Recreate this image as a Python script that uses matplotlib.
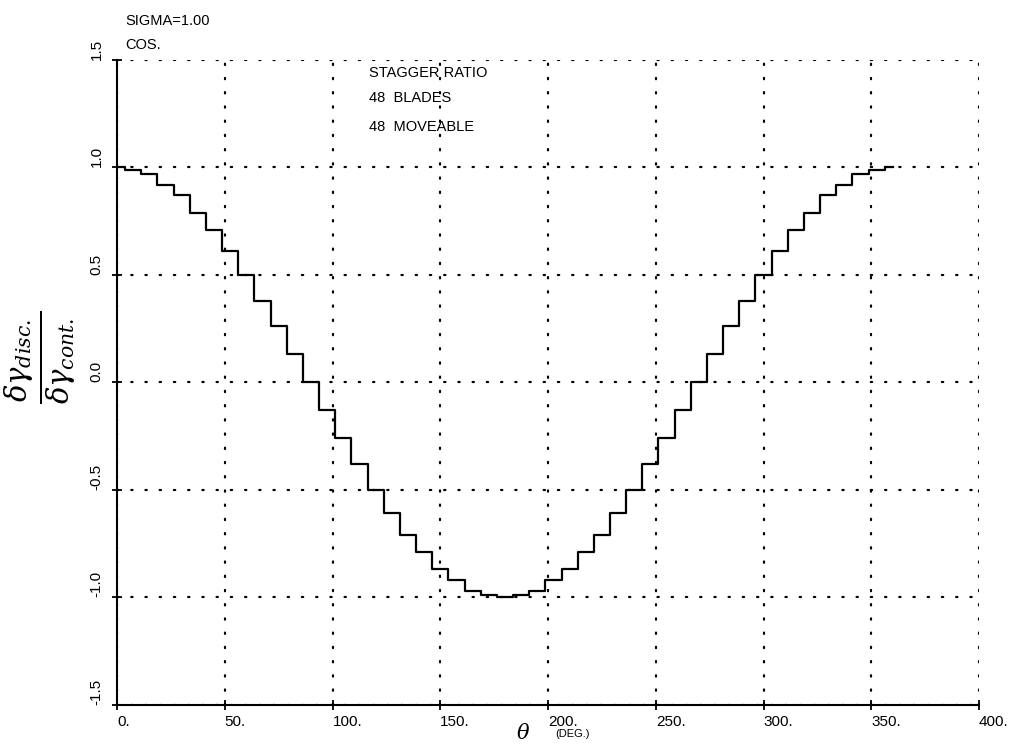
import matplotlib
matplotlib.use("Agg")
import matplotlib.pyplot as plt

# Data: blade angle (deg) and discrete/continuous ratio
theta = [0.0, 7.5, 15.0, 22.5, 30.0, 37.5, 45.0, 52.5, 60.0, 67.5, 75.0, 82.5,
         90.0, 97.5, 105.0, 112.5, 120.0, 127.5, 135.0, 142.5, 150.0, 157.5, 165.0, 172.5,
         180.0, 187.5, 195.0, 202.5, 210.0, 217.5, 225.0, 232.5, 240.0, 247.5, 255.0, 262.5,
         270.0, 277.5, 285.0, 292.5, 300.0, 307.5, 315.0, 322.5, 330.0, 337.5, 345.0, 352.5,
         360.0]
ratio = [1.00, 0.99, 0.97, 0.92, 0.87, 0.79, 0.71, 0.61, 0.50, 0.38, 0.26, 0.13,
         0.00, -0.13, -0.26, -0.38, -0.50, -0.61, -0.71, -0.79, -0.87, -0.92, -0.97, -0.99,
         -1.00, -0.99, -0.97, -0.92, -0.87, -0.79, -0.71, -0.61, -0.50, -0.38, -0.26, -0.13,
         0.00, 0.13, 0.26, 0.38, 0.50, 0.61, 0.71, 0.79, 0.87, 0.92, 0.97, 0.99,
         1.00]
xticks = [0, 50, 100, 150, 200, 250, 300, 350, 400]
xticklabels = ["0.", "50.", "100.", "150.", "200.", "250.", "300.", "350.", "400."]
yticks = [-1.5, -1.0, -0.5, 0.0, 0.5, 1.0, 1.5]
yticklabels = ["-1.5", "-1.0", "-0.5", "0.0", "0.5", "1.0", "1.5"]

plt.rcParams['font.family'] = ['Liberation Sans', 'DejaVu Sans']
plt.rcParams['mathtext.fontset'] = 'dejavuserif'

fig = plt.figure(figsize=(10.13, 7.49), dpi=100)
ax = fig.add_axes([0.1155, 0.059, 0.851, 0.861])

ax.step(theta, ratio, where='mid', color='black', lw=1.6)

ax.set_xlim(0, 400)
ax.set_ylim(-1.5, 1.5)

for s in ['top', 'right']:
    ax.spines[s].set_visible(False)
for s in ['left', 'bottom']:
    ax.spines[s].set_linewidth(1.5)

ax.set_xticks(xticks)
ax.set_xticklabels(xticklabels, ha='left', fontsize=11)
ax.set_yticks(yticks)
ax.set_yticklabels(yticklabels, rotation=90, va='bottom', fontsize=11)
ax.tick_params(direction='inout', length=7, width=1.3, pad=4)
ax.tick_params(axis='y', pad=6)

ax.grid(True, color='black', lw=1.6, linestyle=(0, (0.6, 5.8)))
for ln in ax.get_xgridlines() + ax.get_ygridlines():
    ln.set_dash_capstyle('round')

fig.text(0.040, 0.523, r'$\frac{\delta\gamma_{disc.}}{\delta\gamma_{cont.}}$', fontsize=30,
         rotation=90, ha='center', va='center')

fig.text(0.509, 0.013, r'$\theta$', fontsize=15)
fig.text(0.548, 0.016, '(DEG.)', fontsize=8)

fig.text(0.124, 0.972, 'SIGMA=1.00', fontsize=10.5, va='center')
fig.text(0.124, 0.940, 'COS.', fontsize=10.5, va='center')
fig.text(0.364, 0.902, 'STAGGER RATIO', fontsize=10.5, va='center')
fig.text(0.364, 0.869, '48  BLADES', fontsize=10.5, va='center')
fig.text(0.364, 0.830, '48  MOVEABLE', fontsize=10.5, va='center')

fig.savefig('out.png', dpi=100)
